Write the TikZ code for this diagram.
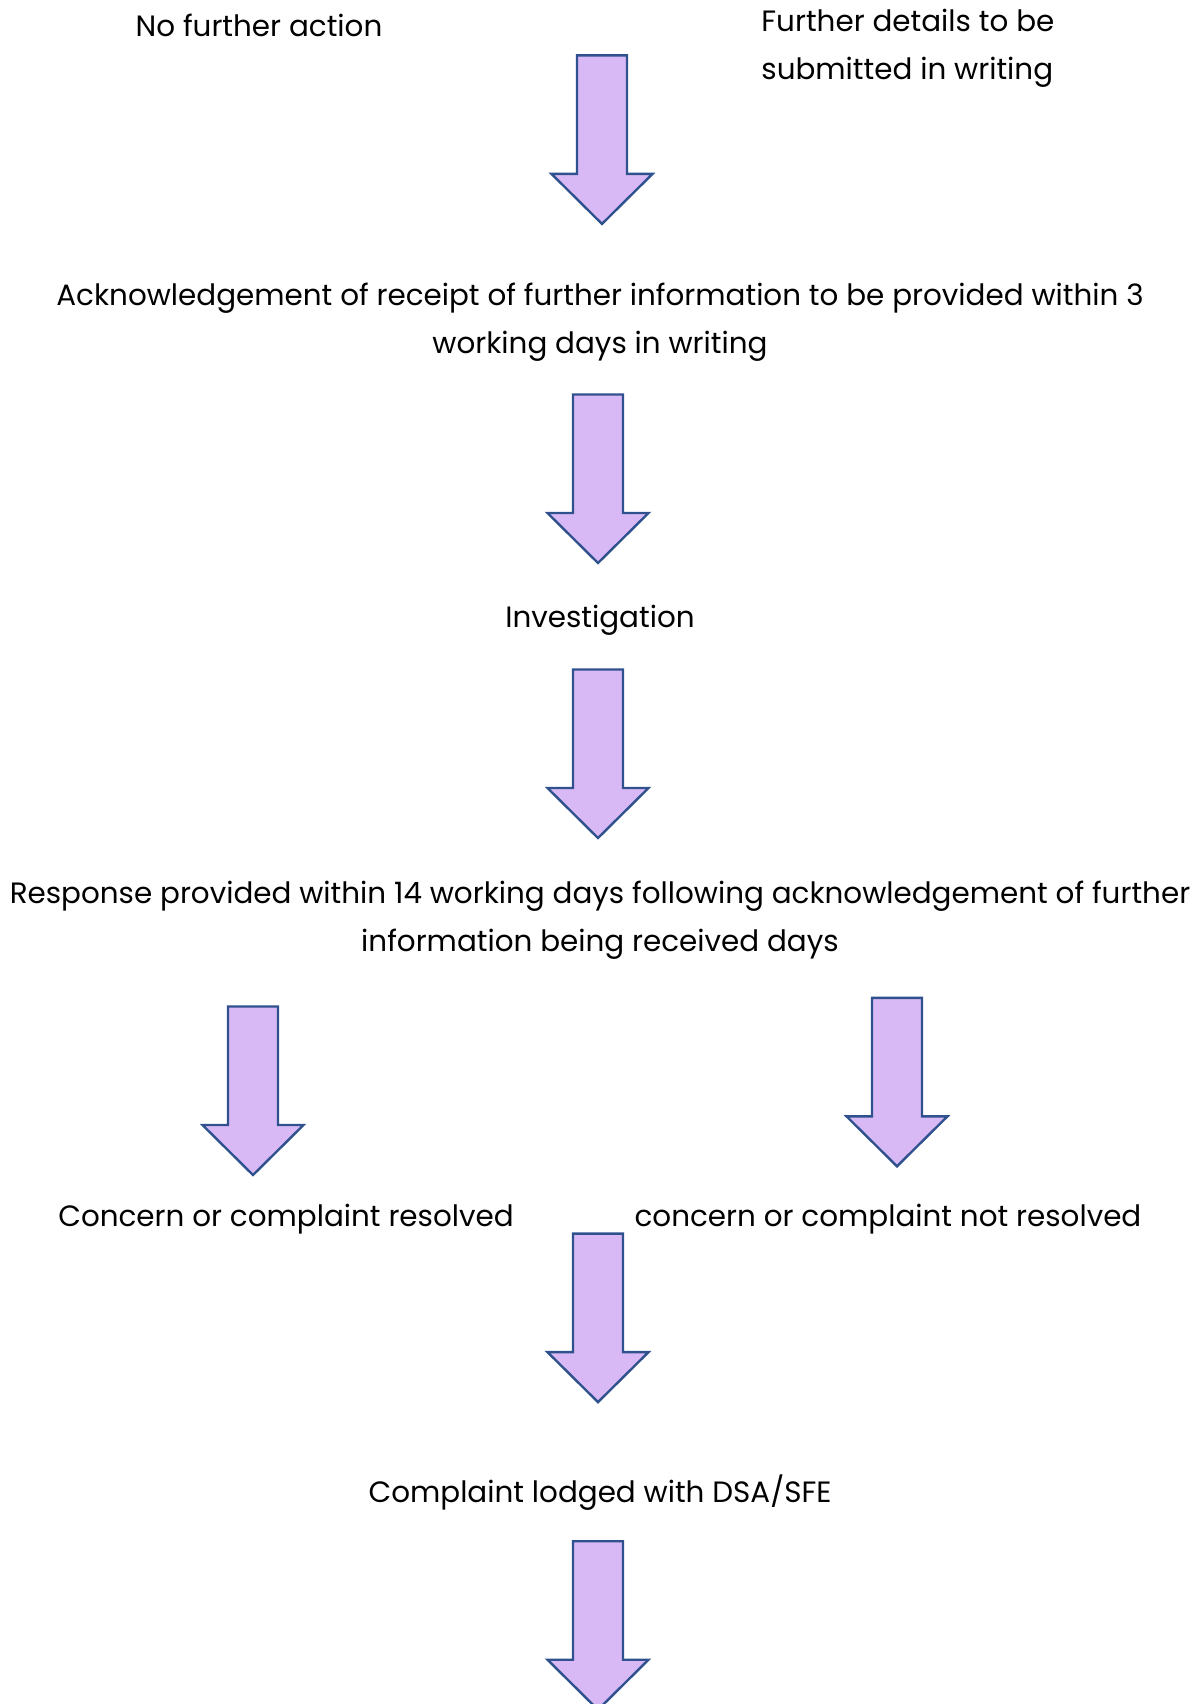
\documentclass[tikz,border=0pt]{standalone}
\usepackage{fontspec}
\setmainfont{Poppins}
\usetikzlibrary{positioning}
\definecolor{lilac}{RGB}{217, 185, 245}
\definecolor{arrow_blue}{RGB}{47, 82, 143}

\begin{document}
\begin{tikzpicture}[
    x=0.5pt, y=-0.5pt,
    % Node styles
    step_text/.style={
        inner sep=0pt,
        align=center,
        font=\fontsize{14.7}{23.9}\selectfont
    },
    block_arrow/.style={
        draw=arrow_blue,
        fill=lilac,
        line width=1.2pt,
        line join=miter
    },
    down_arrow/.pic={
        \draw[block_arrow] (-25,0) -- (25,0) -- (25,118.5) -- (50.5,118.5)
            -- (0,168.5) -- (-50.5,118.5) -- (-25,118.5) -- cycle;
    }
]
\useasboundingbox (0,0) rectangle (1201,1704);

% Text nodes
\node[step_text] (none) at (259,25.2) {No further action};
\node[step_text, align=left, anchor=west] (details) at (761,48) {Further details to be\\submitted in writing};
\node[step_text] (ack) at (600,322) {Acknowledgement of receipt of further information to be provided within 3\\working days in writing};
\node[step_text] (invest) at (600,620.5) {Investigation};
\node[step_text] (response) at (600,920.2) {Response provided within 14 working days following acknowledgement of further\\information being received days};
\node[step_text] (resolved) at (286,1219.5) {Concern or complaint resolved};
\node[step_text] (unresolved) at (888,1219.5) {concern or complaint not resolved};
\node[step_text] (lodged) at (600,1492.5) {Complaint lodged with DSA/SFE};

% Block arrows
\coordinate (top_a) at (602,55.4);
\coordinate (top_b) at (598,394.5);
\coordinate (top_c) at (598,669.5);
\coordinate (top_left) at (253,1006.5);
\coordinate (top_right) at (897,997.8);
\coordinate (top_d) at (598,1233.6);
\coordinate (top_e) at (598,1541.2);

\pic at (top_a) {down_arrow};
\pic at (top_b) {down_arrow};
\pic at (top_c) {down_arrow};
\pic at (top_left) {down_arrow};
\pic at (top_right) {down_arrow};
\pic at (top_d) {down_arrow};
\pic at (top_e) {down_arrow};

\end{tikzpicture}
\end{document}
